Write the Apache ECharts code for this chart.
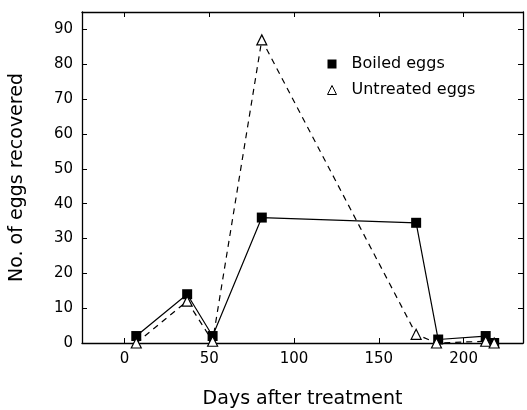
<!DOCTYPE html>
<html>
<head>
<meta charset="utf-8">
<script src="https://cdn.jsdelivr.net/npm/echarts@6/dist/echarts.min.js"></script>
<style>html,body{margin:0;padding:0;background:#fff;}#c{width:527px;height:410px;}</style>
</head>
<body>
<div id="c"></div>
<script>
const days = [7, 37, 52, 81, 172, 185, 213, 218];
const boiled = [2, 14, 2, 36, 34.5, 1, 2, 0];
const untreatedDays = [7, 37, 52, 81, 172, 184, 213, 218];
const untreated = [0, 12, 0.5, 87, 2.5, 0, 0.5, 0];
const xTicks = [0, 50, 100, 150, 200];
const yTicks = [0, 10, 20, 30, 40, 50, 60, 70, 80, 90];

const FONT = 'DejaVu Sans';
const chart = echarts.init(document.getElementById('c'), null, {renderer: 'canvas'});
const axisLineStyle = {color: '#000', width: 1.3};
chart.setOption({
  backgroundColor: '#fff',
  animation: false,
  textStyle: {fontFamily: FONT, color: '#000'},
  grid: {left: 82, right: 4, top: 12, bottom: 67, containLabel: false, outerBoundsMode: 'none'},
  legend: {
    orient: 'vertical', left: 322, top: 51, itemGap: 10,
    itemWidth: 9, itemHeight: 9,
    textStyle: {fontFamily: FONT, fontSize: 16, color: '#000', padding: [0, 0, 0, 10]},
    data: [
      {name: 'Boiled eggs', icon: 'rect', itemStyle: {color: '#000', borderWidth: 0}},
      {name: 'Untreated eggs', icon: 'triangle', itemStyle: {color: '#fff', borderColor: '#000', borderWidth: 1}}
    ]
  },
  xAxis: [{
    type: 'value', min: -25, max: 235, position: 'bottom',
    name: 'Days after treatment', nameLocation: 'middle', nameGap: 47,
    nameTextStyle: {fontFamily: FONT, fontSize: 19, color: '#000'},
    axisLine: {show: true, onZero: false, lineStyle: axisLineStyle},
    axisTick: {show: true, inside: true, length: 5, customValues: xTicks, lineStyle: {color: '#000'}},
    axisLabel: {customValues: xTicks, fontFamily: FONT, fontSize: 15, color: '#000', margin: 9},
    splitLine: {show: false}
  }, {
    type: 'value', min: -25, max: 235, position: 'top',
    axisLine: {show: true, onZero: false, lineStyle: axisLineStyle},
    axisTick: {show: true, inside: true, length: 5, customValues: xTicks, lineStyle: {color: '#000'}},
    axisLabel: {show: false}, splitLine: {show: false}
  }],
  yAxis: [{
    type: 'value', min: 0, max: 95, position: 'left',
    name: 'No. of eggs recovered', nameLocation: 'middle', nameGap: 55,
    nameTextStyle: {fontFamily: FONT, fontSize: 19, color: '#000'},
    axisLine: {show: true, onZero: false, lineStyle: axisLineStyle},
    axisTick: {show: true, inside: true, length: 5, customValues: yTicks, lineStyle: {color: '#000'}},
    axisLabel: {customValues: yTicks, fontFamily: FONT, fontSize: 15, color: '#000', margin: 9},
    splitLine: {show: false}
  }, {
    type: 'value', min: 0, max: 95, position: 'right',
    axisLine: {show: true, onZero: false, lineStyle: axisLineStyle},
    axisTick: {show: true, inside: true, length: 5, customValues: yTicks, lineStyle: {color: '#000'}},
    axisLabel: {show: false}, splitLine: {show: false}
  }],
  series: [{
    name: 'Boiled eggs', type: 'line', z: 2,
    data: days.map((d, i) => [d, boiled[i]]),
    symbol: 'rect', symbolSize: 10,
    itemStyle: {color: '#000'},
    lineStyle: {color: '#000', width: 1.2, type: 'solid'}
  }, {
    name: 'Untreated eggs', type: 'line', z: 3,
    data: untreatedDays.map((d, i) => [d, untreated[i]]),
    symbol: 'triangle', symbolSize: 10,
    itemStyle: {color: '#fff', borderColor: '#000', borderWidth: 1.2},
    lineStyle: {color: '#000', width: 1.2, type: [6, 5]}
  }]
});
</script>
</body>
</html>
